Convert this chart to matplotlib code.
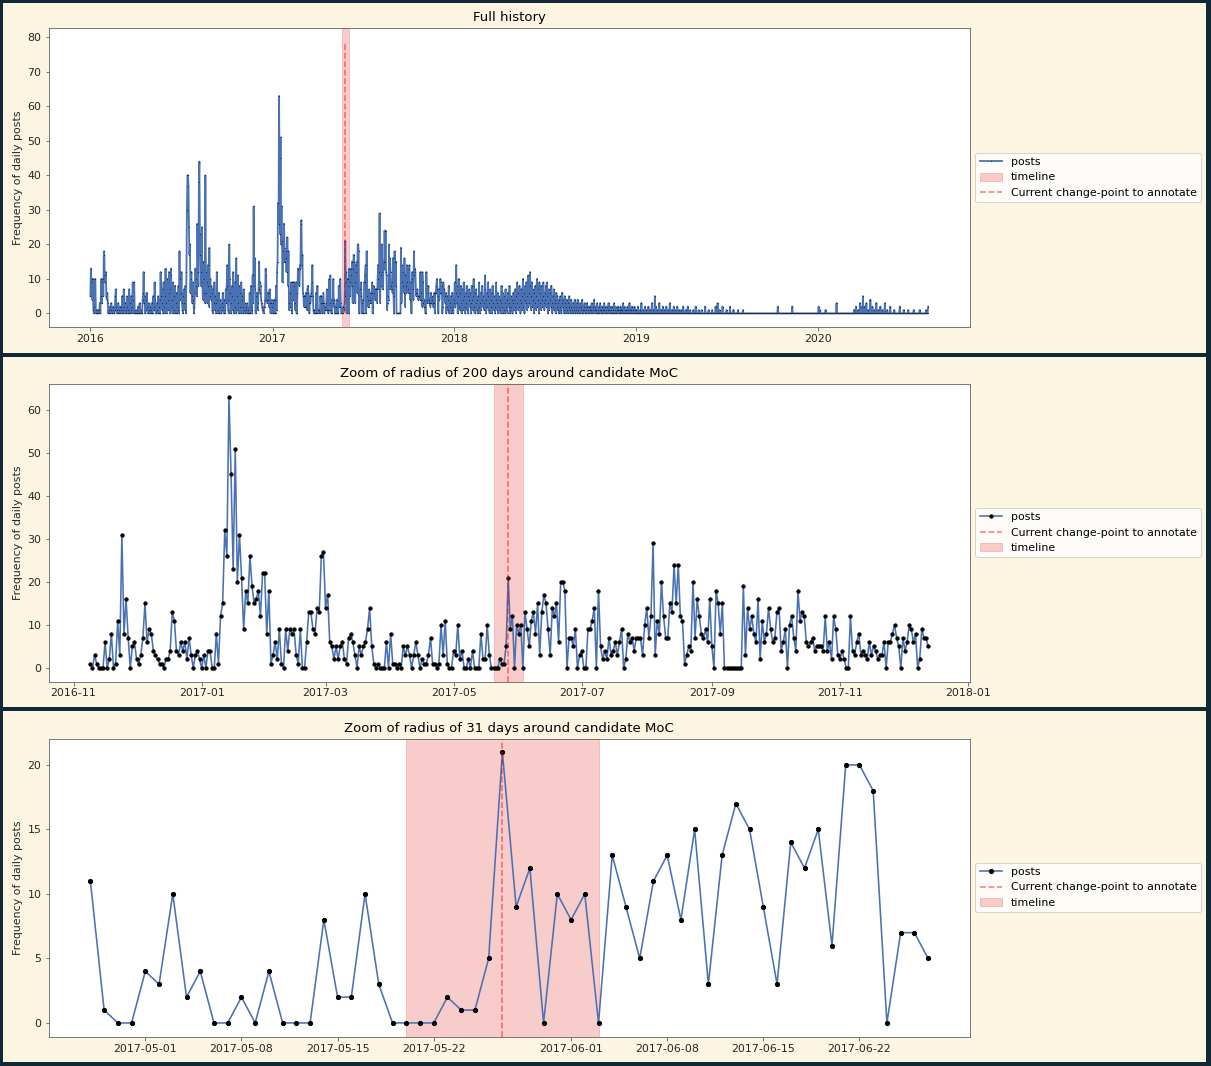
import pandas as pd
import matplotlib
matplotlib.use("Agg")
import matplotlib.pyplot as plt
import matplotlib.dates as mdates
from matplotlib.patches import Rectangle

# daily posts 2016-01-01 .. 2016-11-08 (estimated from the full history panel)
posts_2016 = [
    5, 13, 9, 10, 4, 10, 1, 0, 2, 10, 10, 0, 1, 0, 0, 1, 0, 0, 1, 3, 0, 5, 10, 3, 9, 10, 5, 18, 17, 9, 11,
    12, 5, 4, 6, 3, 0, 1, 0, 2, 0, 1, 3, 0, 0, 2, 1, 0, 0, 1, 5, 7, 2, 0, 1, 0, 3, 1, 0, 2,
    0, 1, 2, 0, 5, 0, 1, 7, 2, 0, 3, 1, 0, 5, 2, 0, 1, 0, 7, 3, 0, 1, 5, 0, 2, 9, 4, 0, 9, 1, 0,
    0, 0, 1, 0, 0, 2, 0, 0, 3, 0, 1, 0, 0, 0, 4, 6, 12, 3, 5, 0, 4, 1, 6, 2, 0, 0, 3, 1, 0, 2,
    0, 1, 3, 0, 0, 5, 2, 1, 9, 4, 0, 0, 1, 3, 0, 5, 2, 0, 4, 0, 12, 5, 3, 1, 7, 0, 9, 2, 0, 5, 13,
    3, 0, 10, 4, 1, 6, 12, 7, 0, 11, 13, 4, 2, 0, 9, 5, 1, 0, 8, 3, 0, 6, 2, 0, 1, 8, 0, 18, 4, 10,
    6, 12, 3, 1, 0, 5, 7, 3, 1, 8, 0, 12, 30, 40, 40, 37, 25, 17, 20, 6, 10, 12, 5, 3, 9, 4, 0, 2, 6, 13, 8,
    10, 5, 26, 12, 8, 38, 44, 23, 17, 8, 12, 25, 9, 4, 15, 6, 10, 3, 40, 12, 6, 9, 3, 14, 8, 2, 19, 5, 10, 4, 8,
    6, 1, 0, 7, 3, 9, 1, 5, 0, 3, 12, 4, 0, 1, 6, 0, 2, 4, 0, 0, 1, 3, 6, 2, 0, 4, 0, 1, 7, 3,
    8, 14, 4, 1, 0, 20, 10, 6, 3, 0, 5, 8, 1, 12, 4, 0, 9, 2, 0, 16, 5, 1, 11, 3, 0, 8, 2, 6, 0, 9, 5,
    4, 0, 2, 7, 1, 3, 0, 2,
]

# daily posts 2016-11-09 .. 2017-12-13 (200 days around the change point)
posts_zoom = [
    1, 0, 3, 1, 0, 0, 0, 6, 0, 2, 8, 0, 1, 11, 3, 31, 8, 16, 7, 0, 5, 6,
    2, 1, 3, 7, 15, 6, 9, 8, 4, 3, 2, 1, 1, 0, 2, 2, 4, 13, 11, 4, 3, 6, 4, 6, 2, 7, 3, 0, 3, 4, 2,
    0, 3, 0, 4, 4, 0, 0, 8, 1, 12, 15, 32, 26, 63, 45, 23, 51, 20, 31, 21, 9, 18, 15, 26, 19, 15, 16, 18, 12, 22, 22,
    8, 18, 1, 3, 6, 2, 9, 1, 0, 9, 4, 9, 8, 9, 3, 1, 9, 0, 0, 6, 13, 13, 9, 8, 14, 13, 26, 27,
    14, 17, 6,
    5, 2, 5, 2, 5, 6, 2, 1, 7, 8, 6, 3, 0, 5, 3, 5, 6, 9, 14, 5, 1, 0, 1, 0, 0, 0, 6, 0, 8, 1,
    1, 0, 1, 0, 5, 3, 5, 3, 0, 3, 6, 3, 0, 2, 1, 1, 3, 7, 1, 1, 0, 1, 10,
    3,
    11, 1, 0, 0, 4, 3, 10, 2, 4, 0, 0, 2, 0, 4, 0, 0, 0, 8, 2, 2, 10, 3, 0, 0, 0, 0, 2, 1, 1, 5, 21,
    9, 12, 0, 10, 8, 10, 0, 13, 9, 5, 11, 13, 8, 15, 3, 13, 17, 15, 9, 3, 14, 12, 15, 6, 20, 20, 18, 0, 7, 7, 5,
    9, 0, 3, 4, 0, 0, 9, 9, 11, 14, 0, 18, 5, 2, 4, 2, 7, 3, 4, 6, 3, 6, 9, 0, 2, 8, 6, 7, 4, 7, 7,
    7, 3, 10, 14, 7, 12, 29, 3, 11, 8, 20, 12, 7, 7, 15, 13, 24, 15, 24, 12,
    11, 1, 3, 5, 4, 20, 7, 16, 12, 8, 7, 9, 6, 16, 5, 0, 18, 15, 8, 15,
    0, 0, 0, 0, 0, 0, 0, 0, 0, 19, 3, 14, 9, 12, 8, 6, 16, 2, 11, 6,
    8, 14, 9, 6, 7, 13, 14, 4, 6, 9, 0, 10, 12, 7, 4, 18, 11, 13, 12, 6,
    5, 6, 7, 4, 5, 5, 5, 4, 12, 4, 6, 2, 12, 9, 3, 2, 4, 2, 0, 0,
    12, 4, 3, 6, 8, 3, 4, 3, 2, 6, 3, 5, 4, 2, 3, 3, 6, 0, 6, 6,
    8, 10, 7, 5, 0, 7, 4, 6, 10, 9, 6, 8, 0, 2, 9, 7, 7, 5,
]

# daily posts 2017-12-14 .. 2018-12-31
posts_2018 = [
    3, 6, 0, 2, 5, 1, 4, 8, 0, 3, 2, 5, 0, 1, 6, 2, 0, 3,
    4, 9, 2, 6, 14, 3, 8, 0, 5, 10, 2, 6, 1, 8, 3, 0, 7, 4, 1, 9, 5, 2, 0, 6, 3, 8, 1, 5, 0, 4, 7,
    2, 6, 3, 0, 8, 4, 1, 5, 10, 2, 0, 6, 3, 7, 1, 4, 0, 5, 2, 9, 3, 0, 6, 1, 4, 8, 2, 5,
    3, 1, 7, 11, 4, 0, 6, 2, 5, 9, 1, 3, 0, 7, 4, 2, 6, 0, 8, 3, 1, 5, 2, 0, 4, 9, 3, 1, 6, 0, 2,
    5, 1, 4, 0, 3, 8, 2, 6, 0, 1, 5, 3, 0, 7, 2, 4, 1, 0, 6, 3, 2, 8, 0, 1, 5, 2, 4, 0, 3, 6,
    1, 4, 7, 2, 0, 5, 9, 3, 1, 6, 2, 8, 4, 0, 3, 7, 1, 5, 10, 2, 6, 0, 4, 8, 3, 9, 1, 5, 11, 2, 6,
    3, 12, 8, 1, 5, 9, 2, 7, 4, 0, 6, 3, 8, 1, 5, 10, 2, 4, 7, 0, 9, 3, 6, 1, 8, 4, 2, 5, 9, 3,
    1, 6, 4, 8, 2, 9, 5, 0, 3, 7, 1, 4, 6, 2, 8, 3, 0, 5, 2, 7, 1, 4, 3, 0, 6, 2, 5, 1, 3, 0, 4,
    2, 5, 1, 0, 3, 6, 2, 4, 0, 1, 5, 3, 0, 2, 4, 1, 0, 3, 2, 5, 1, 0, 2, 4, 0, 1, 3, 0, 2, 1, 4,
    0, 2, 1, 3, 0, 4, 1, 0, 2, 3, 0, 1, 2, 0, 4, 1, 0, 2, 1, 3, 0, 1, 0, 2, 3, 0, 1, 2, 0, 1,
    2, 0, 1, 3, 0, 2, 1, 0, 4, 1, 2, 0, 1, 0, 3, 1, 0, 2, 0, 1, 3, 0, 1, 0, 2, 1, 0, 1, 3, 0, 2,
    0, 1, 2, 0, 1, 0, 3, 1, 0, 2, 0, 1, 0, 2, 1, 0, 0, 3, 1, 0, 2, 0, 1, 0, 1, 2, 0, 0, 1, 0,
    2, 0, 1, 0, 1, 3, 0, 0, 2, 1, 0, 1, 0, 0, 2, 0, 1, 0, 3, 1, 0, 0, 1, 2, 0, 1, 0, 0, 2, 1, 0,
]

# 2019-01-01 .. 2020-08-10: zero except these days
sparse_days = [
    "2019-01-02", "2019-01-05", "2019-01-09", "2019-01-12", "2019-01-15", "2019-01-19", "2019-01-22",
    "2019-01-26", "2019-01-29", "2019-02-02", "2019-02-05", "2019-02-08", "2019-02-10", "2019-02-13",
    "2019-02-17", "2019-02-20", "2019-02-24", "2019-02-27", "2019-03-03", "2019-03-06", "2019-03-10",
    "2019-03-14", "2019-03-18", "2019-03-21", "2019-03-25", "2019-03-29", "2019-04-02", "2019-04-06",
    "2019-04-11", "2019-04-15", "2019-04-20", "2019-04-26", "2019-05-01", "2019-05-07", "2019-05-13",
    "2019-05-20", "2019-05-27", "2019-06-03", "2019-06-10", "2019-06-14", "2019-06-18", "2019-06-24",
    "2019-07-02", "2019-07-09", "2019-07-16", "2019-07-25", "2019-08-04", "2019-10-13", "2019-11-11",
    "2020-01-03", "2020-01-06", "2020-01-17", "2020-02-08", "2020-03-14", "2020-03-18", "2020-03-22",
    "2020-03-26", "2020-03-30", "2020-04-01", "2020-04-04", "2020-04-08", "2020-04-12", "2020-04-16",
    "2020-04-20", "2020-04-24", "2020-04-28", "2020-05-02", "2020-05-06", "2020-05-10", "2020-05-15",
    "2020-05-20", "2020-05-26", "2020-06-03", "2020-06-14", "2020-06-22", "2020-07-01", "2020-07-12",
    "2020-07-24", "2020-08-06", "2020-08-10",
]
sparse_posts = [
    1, 2, 1, 3, 1, 2, 1,
    2, 1, 3, 1, 5, 2, 1,
    3, 1, 2, 1, 2, 1, 3,
    1, 2, 1, 2, 1, 1, 2,
    1, 2, 1, 1, 2, 1, 1,
    2, 1, 1, 2, 3, 1, 2,
    1, 2, 1, 1, 1, 2, 2,
    2, 1, 1, 3, 1, 2, 1,
    3, 2, 5, 2, 3, 1, 4,
    2, 1, 3, 1, 2, 1, 3,
    1, 2, 1, 2, 1, 1, 1,
    1, 1, 2,
]

change_point = pd.Timestamp("2017-05-27")
timeline = (pd.Timestamp("2017-05-20"), pd.Timestamp("2017-06-03"))

# assemble the daily series
s_2016 = pd.Series(posts_2016, index=pd.date_range("2016-01-01", periods=len(posts_2016)))
s_zoom = pd.Series(posts_zoom, index=pd.date_range("2016-11-09", periods=len(posts_zoom)))
s_2018 = pd.Series(posts_2018, index=pd.date_range("2017-12-14", periods=len(posts_2018)))
s_late = pd.Series(0, index=pd.date_range("2019-01-01", "2020-08-10"))
s_late[pd.to_datetime(sparse_days)] = sparse_posts
full = pd.concat([s_2016, s_zoom, s_2018, s_late])
full = full[~full.index.duplicated()].sort_index()

BLUE = "#4a72b2"
CREAM = "#fcf5e2"
DARK = "#102a35"

plt.rcParams["font.family"] = "DejaVu Sans"
plt.rcParams["axes.edgecolor"] = "#5a5a5a"
plt.rcParams["xtick.color"] = "#5a5a5a"
plt.rcParams["ytick.color"] = "#5a5a5a"
plt.rcParams["xtick.labelcolor"] = "#262626"
plt.rcParams["ytick.labelcolor"] = "#262626"
plt.rcParams["xtick.labelsize"] = 11
plt.rcParams["ytick.labelsize"] = 11
plt.rcParams["legend.fontsize"] = 11

W, H = 1211, 1066
fig = plt.figure(figsize=(W / 72, H / 72), dpi=72, facecolor=DARK)

# the three cream panels
for top, bottom in [(3, 353), (357, 707), (711, 1062)]:
    fig.add_artist(Rectangle((3 / W, 1 - bottom / H), 1203 / W, (bottom - top) / H,
                             transform=fig.transFigure, facecolor=CREAM, edgecolor="none", zorder=-1))


def make_axes(top, bottom):
    return fig.add_axes([48.5 / W, 1 - bottom / H, (970 - 48.5) / W, (bottom - top) / H])


ax1 = make_axes(28, 327)
ax2 = make_axes(383.5, 681.5)
ax3 = make_axes(738.5, 1036.5)

# full history
ax1.plot(full.index, full.values, color=BLUE, lw=1.8, marker="o", ms=1.2, mew=0,
         mfc="#1c2c4c", label="posts")
ax1.axvspan(timeline[0], timeline[1], color="lightcoral", alpha=0.4, label="timeline")
ax1.vlines(change_point, 0, full.max() * 1.25, colors="red", linestyles="--", alpha=0.5,
           lw=1.6, label="Current change-point to annotate")
ax1.xaxis.set_major_locator(mdates.YearLocator())
ax1.xaxis.set_major_formatter(mdates.DateFormatter("%Y"))
ax1.set_title("Full history", fontsize=13.2, pad=6.6)

# zooms around the change point
for ax, radius, ms in [(ax2, 200, 3.3), (ax3, 31, 4.2)]:
    mask = (full.index > change_point - pd.Timedelta(days=radius)) & \
           (full.index <= change_point + pd.Timedelta(days=radius))
    part = full[mask]
    ax.plot(part.index, part.values, color=BLUE, lw=1.6, marker="o", ms=ms, mfc="k", mec="k", label="posts")
    ax.axvline(change_point, color="red", ls="--", alpha=0.5, lw=1.6, label="Current change-point to annotate")
    ax.axvspan(timeline[0], timeline[1], color="lightcoral", alpha=0.4, label="timeline")
    ax.set_title(f"Zoom of radius of {radius} days around candidate MoC", fontsize=13.2, pad=6.6)

ax2.xaxis.set_major_locator(mdates.MonthLocator(bymonth=[1, 3, 5, 7, 9, 11]))
ax2.xaxis.set_major_formatter(mdates.DateFormatter("%Y-%m"))
ax3.xaxis.set_major_locator(mdates.DayLocator(bymonthday=[1, 8, 15, 22]))
ax3.xaxis.set_major_formatter(mdates.DateFormatter("%Y-%m-%d"))

for ax in (ax1, ax2, ax3):
    ax.set_facecolor("white")
    ax.set_ylabel("Frequency of daily posts", fontsize=11, color="#262626")
    ax.legend(loc="center left", bbox_to_anchor=(1.0, 0.5))

fig.savefig("out.png", dpi=72, facecolor=DARK)
